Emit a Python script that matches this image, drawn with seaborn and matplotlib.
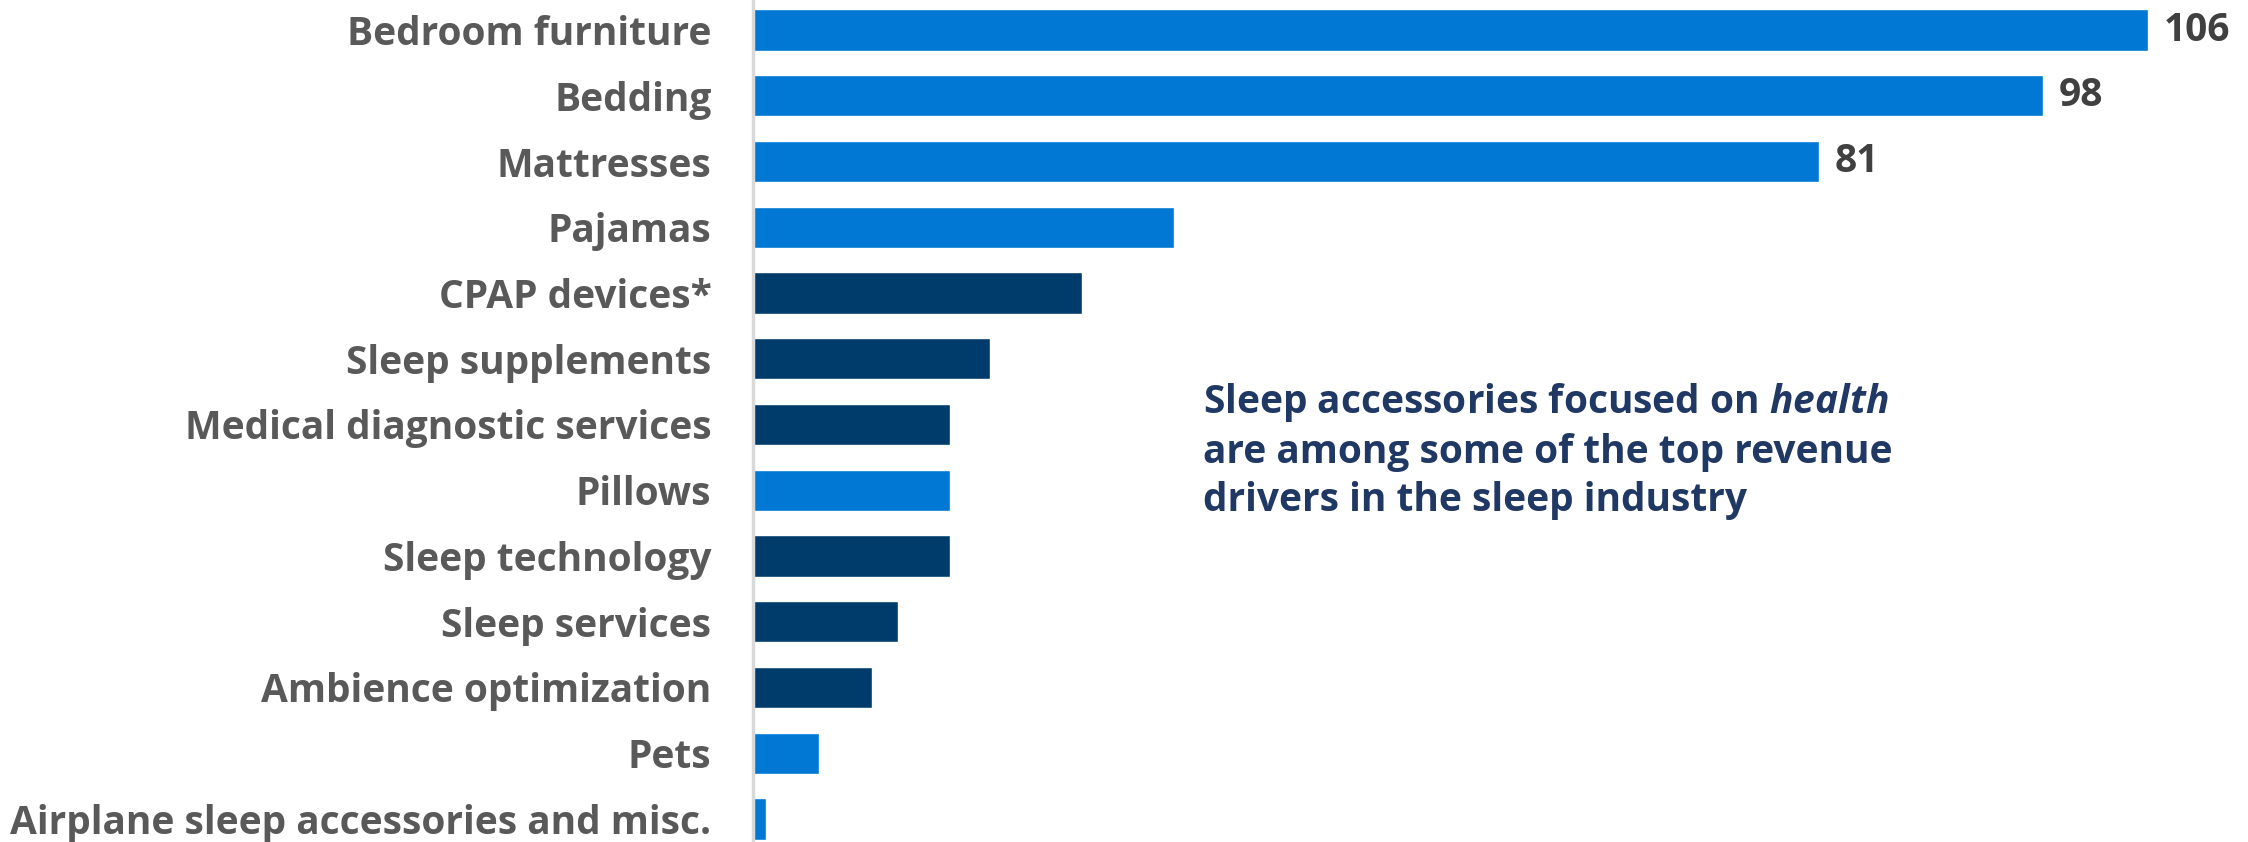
import matplotlib
matplotlib.use("Agg")
import matplotlib.pyplot as plt
import seaborn as sns
import pandas as pd

categories = ["Bedroom furniture", "Bedding", "Mattresses", "Pajamas", "CPAP devices*",
              "Sleep supplements", "Medical diagnostic services", "Pillows", "Sleep technology",
              "Sleep services", "Ambience optimization", "Pets",
              "Airplane sleep accessories and misc."]
values = [106, 98, 81, 32, 25, 18, 15, 15, 15, 11, 9, 5, 1]
groups = ["core", "core", "core", "core", "health", "health", "health", "core", "health",
          "health", "health", "core", "core"]
shown_labels = ["106", "98", "81", "", "", "", "", "", "", "", "", "", ""]

palette = {"core": "#0078D4", "health": "#003C6B"}

df = pd.DataFrame({"category": categories, "value": values, "group": groups})

sns.set_theme(style="white")
plt.rcParams["font.family"] = ["Open Sans", "DejaVu Sans"]
plt.rcParams["mathtext.fontset"] = "custom"
plt.rcParams["mathtext.it"] = "Open Sans:italic:bold"
plt.rcParams["mathtext.rm"] = "Open Sans:bold"

fig = plt.figure(figsize=(22.48, 8.42), dpi=100)
ax = fig.add_axes([0.335, -0.0078, 0.6557, 1.0073])

sns.barplot(data=df, y="category", x="value", hue="group", palette=palette,
            dodge=False, legend=False, width=0.63, ax=ax, saturation=1)

ax.set_xlim(0, 112)
ax.set_ylim(12.45, -0.45)
ax.set_xlabel("")
ax.set_ylabel("")
ax.set_xticks([])
for s in ["top", "right", "bottom"]:
    ax.spines[s].set_visible(False)
ax.spines["left"].set_color("#D9D9D9")
ax.spines["left"].set_linewidth(2.5)
ax.tick_params(axis="y", length=0, pad=30)
for t in ax.get_yticklabels():
    t.set_fontsize(28)
    t.set_fontweight("bold")
    t.set_color("#595959")

for i, (v, lab) in enumerate(zip(values, shown_labels)):
    if lab:
        ax.text(v + 1.2, i, lab, va="center", ha="left", fontsize=28,
                fontweight="bold", color="#404040")

tx = (1203 - 753) / 13.16
ax.text(tx, 6.4, "Sleep accessories focused on $\\mathit{health}$\nare among some of the top revenue\ndrivers in the sleep industry",
        va="center", ha="left", fontsize=28, fontweight="bold", color="#203864",
        linespacing=1.3)

fig.savefig("out.png", dpi=100)
